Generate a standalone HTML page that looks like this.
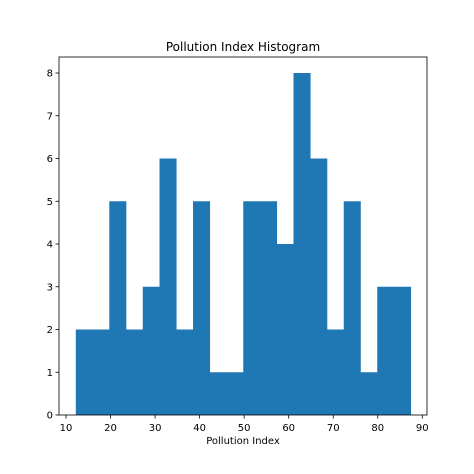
<!DOCTYPE html>
<html><head><style>html,body{margin:0;padding:0;background:#fff;width:474px;height:474px;overflow:hidden}svg{display:block}svg text{font-family:"DejaVu Sans","Liberation Sans",sans-serif;fill:#000}</style></head>
<body>
<svg id="c" width="474" height="474"></svg>
<script>
const binStart = 12.2;
const binWidth = 3.76;
const counts = [2,2,5,2,3,6,2,5,1,1,5,5,4,8,6,2,5,1,3,3];
const xTicks = [10,20,30,40,50,60,70,80,90];
const yTicks = [0,1,2,3,4,5,6,7,8];
const L=59,R=427,T=57,B=415;
const x=v=>66+(v-10)*(422.3-66)/80;
const y=v=>415-v*(415-73)/8;
const s=document.getElementById('c'),NS='http://www.w3.org/2000/svg';
function el(t,a,txt){const e=document.createElementNS(NS,t);for(const k in a)e.setAttribute(k,a[k]);if(txt!=null)e.textContent=txt;s.appendChild(e);return e;}
counts.forEach((c,i)=>{const x0=x(binStart+i*binWidth),x1=x(binStart+(i+1)*binWidth);
const r=el('rect',{x:x0,y:y(c),width:x1-x0+0.3,height:y(0)-y(c),fill:'#1f77b4'});

});
const f=el('rect',{x:L,y:T,width:R-L,height:B-T,fill:'none',stroke:'#000','stroke-width':0.8});


xTicks.forEach(v=>{el('line',{x1:x(v),x2:x(v),y1:B,y2:B+3.5,stroke:'#000','stroke-width':0.8});
const t=el('text',{x:x(v),y:B+16,'font-size':10,'text-anchor':'middle'},v);

});
yTicks.forEach(v=>{el('line',{x1:L-3.5,x2:L,y1:y(v),y2:y(v),stroke:'#000','stroke-width':0.8});
const t=el('text',{x:L-6,y:y(v)+3.5,'font-size':10,'text-anchor':'end'},v);

});
const xt=el('text',{x:(L+R)/2,y:444,'font-size':10,'text-anchor':'middle'},'Pollution Index');


const ti=el('text',{x:(L+R)/2,y:51,'font-size':12,'text-anchor':'middle'},'Pollution Index Histogram');


</script>
</body></html>
